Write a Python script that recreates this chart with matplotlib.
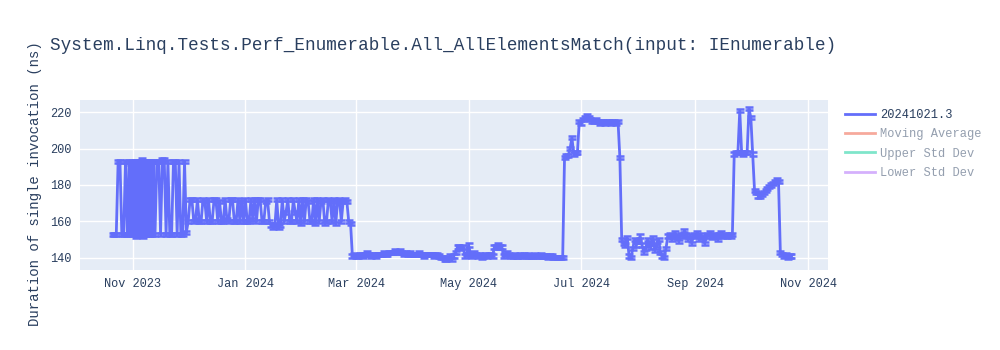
import matplotlib
matplotlib.use('agg')
import matplotlib.pyplot as plt
import matplotlib.dates as mdates
from matplotlib.lines import Line2D
import numpy as np
import pandas as pd

# run results
# Oct 21 - Oct 29 2023, daily (bimodal)
seg_a1_start = '2023-10-21'
seg_a1 = [153, 153, 153, 193, 193, 153, 153, 193, 153]
# Oct 30 - Nov 11 2023, two runs a day
seg_a2_start = '2023-10-30'
seg_a2 = [193, 153, 192, 153, 193, 154, 193, 152, 193, 153, 192, 153, 193,
          153, 194, 152, 193, 153, 193, 154, 192, 153, 193, 153, 193, 153]
# Nov 12 - Nov 30 2023, daily
seg_a3_start = '2023-11-12'
seg_a3 = [193, 153, 193, 193, 153, 194, 194, 153, 193, 153, 153, 193, 193, 153,
          193, 153, 153, 193, 154]

# Dec 1 2023 - Feb 27 2024, daily
seg_b_start = '2023-12-01'
seg_b = [160, 172, 172, 160, 161, 172, 160, 160, 172, 171, 160, 172, 160, 160, 172, 172,
         160, 171, 160, 160, 172, 161, 160, 172, 172, 160, 160, 172, 160, 171, 160,
         172, 160, 160, 172, 161, 172, 160, 172, 172, 160, 160, 171, 172, 160, 158, 157,
         158, 172, 157, 158, 172, 160, 165, 172, 160, 160, 172, 165, 160, 172, 159,
         172, 160, 172, 171, 160, 160, 172, 159, 172, 160, 171, 172, 159, 160, 172, 171,
         160, 172, 159, 171, 172, 160, 171, 172,
         171, 160, 159]

# Feb 28 - Jun 21 2024, daily
seg_c_start = '2024-02-28'
seg_c = [141, 142, 141, 141, 142, 142, 141, 142, 143, 142, 141, 142, 142, 141, 142, 142, 142,
         143, 142, 142, 143, 143, 143, 144, 143, 143, 144, 143, 142, 143, 142, 143, 142,
         142, 142, 142, 143, 142, 142, 141, 142, 142, 142, 142, 141, 142, 142, 141, 140,
         140, 139, 139, 140, 141, 139, 141, 143, 146, 146, 145, 146, 141, 142,
         147, 142, 141, 143, 142, 141, 142, 140, 141, 142, 141, 142, 142, 141, 146, 146,
         147, 146, 146, 141, 142, 143, 142, 141, 141, 142, 141, 141, 142, 141, 142,
         141, 142, 141, 141, 141, 142, 141, 141, 142, 141, 141, 141, 140, 141, 141, 140,
         140, 140, 140, 140, 140]

# Jun 22 - Jul 22 2024, daily
seg_d_start = '2024-06-22'
seg_d = [195, 196, 196, 200, 206, 197, 198, 198,
         215, 214, 216, 217, 218, 217, 216, 215, 215, 216, 215, 214, 215, 215, 214, 215,
         215, 214, 215, 215, 214, 215,
         195]

# Jul 23 - Sep 21 2024, daily
seg_e_start = '2024-07-23'
seg_e = [150, 148, 147, 151, 141, 140, 145, 150, 147,
         149, 152, 147, 143, 145, 150, 148, 146, 151, 144, 147, 150, 143, 141, 140, 145,
         152, 153, 150, 152, 154, 151, 149, 153, 152, 155, 153, 150, 152, 148, 153,
         152, 154, 150, 153, 151, 148, 152, 153, 154, 151, 153, 152, 150, 153, 154, 152,
         153, 152, 153, 152, 153]

# Sep 22 - Oct 23 2024, daily
seg_f_start = '2024-09-22'
seg_f = [197, 198, 198, 221, 198, 197, 198, 198, 222, 217, 197,
         177, 176, 174, 174, 175, 176, 177, 178, 179, 180, 181, 182, 183, 182,
         143, 142, 141, 142, 140, 141, 141]

run_err = 0.9

series_name = '20241021.3'
legend_names = ['Moving Average', 'Upper Std Dev', 'Lower Std Dev']
legend_colors = ['#EF553B', '#00cc96', '#ab63fa']

title = 'System.Linq.Tests.Perf_Enumerable.All_AllElementsMatch(input: IEnumerable)'
ylabel = 'Duration of single invocation (ns)'

dates = pd.DatetimeIndex([])
values = []
for start, vals, freq in [(seg_a1_start, seg_a1, 'D'), (seg_a2_start, seg_a2, '12h'),
                          (seg_a3_start, seg_a3, 'D'), (seg_b_start, seg_b, 'D'),
                          (seg_c_start, seg_c, 'D'), (seg_d_start, seg_d, 'D'),
                          (seg_e_start, seg_e, 'D'), (seg_f_start, seg_f, 'D')]:
    dates = dates.append(pd.date_range(start, periods=len(vals), freq=freq))
    values += vals
values = np.array(values, dtype=float)

plt.rcParams['font.family'] = ['Liberation Mono', 'DejaVu Sans Mono']
txt = '#2a3f5f'

fig = plt.figure(figsize=(10, 3.5), dpi=100)
ax = fig.add_axes([0.08, 0.229, 0.748, 0.485])
ax.set_facecolor('#e5ecf6')

line_c = '#636efa'
ax.errorbar(dates, values, yerr=run_err, color=line_c, lw=2, elinewidth=1.5,
            capsize=2.6, capthick=1.8, zorder=3)

ax.set_xlim(pd.Timestamp('2023-10-03 08:00'), pd.Timestamp('2024-11-11 20:00'))
ax.set_ylim(133.4, 226.6)
ax.set_yticks([140, 160, 180, 200, 220])
ax.xaxis.set_major_locator(mdates.MonthLocator(bymonth=[1, 3, 5, 7, 9, 11]))
ax.xaxis.set_major_formatter(mdates.DateFormatter('%b %Y'))
ax.grid(True, color='white', lw=1)
ax.set_axisbelow(True)
for s in ax.spines.values():
    s.set_visible(False)
ax.tick_params(length=0, labelsize=8.6, colors=txt, pad=6)

fig.text(0.05, 1 - 45 / 350, title, fontsize=12.7, color=txt, va='center', ha='left')
fig.text(0.035, 0.476, ylabel, fontsize=10.1, color=txt, rotation=90, va='center', ha='center')

handles = [Line2D([], [], color=line_c, lw=2)]
for c in legend_colors:
    handles.append(Line2D([], [], color=c, lw=2, alpha=0.5))
leg = fig.legend(handles, [series_name] + legend_names, loc='upper left',
                 bbox_to_anchor=(0.834, 0.72), frameon=False, fontsize=8.64,
                 handlelength=2.5, handletextpad=0.45, labelspacing=0.62)
for i, t in enumerate(leg.get_texts()):
    t.set_color(txt)
    if i > 0:
        t.set_alpha(0.5)

fig.savefig('out.png', dpi=100)
